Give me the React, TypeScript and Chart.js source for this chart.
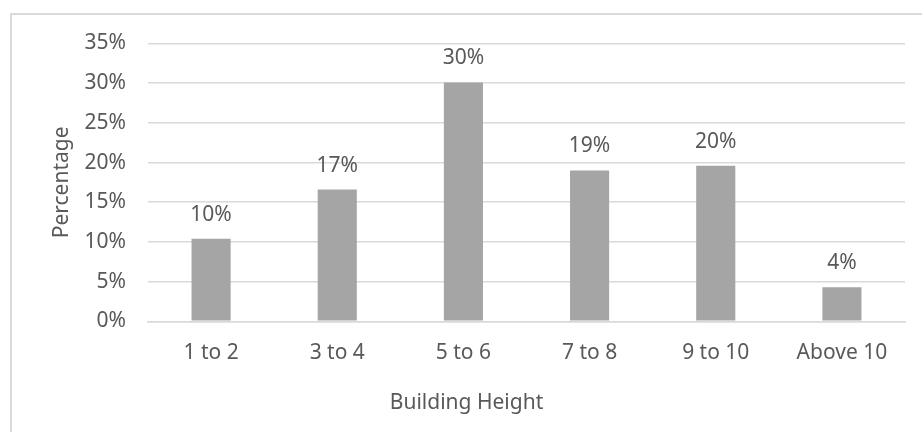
import React, { useEffect, useRef } from "react";
import { Chart, registerables } from "chart.js";

Chart.register(...registerables);

const categories = ["1 to 2", "3 to 4", "5 to 6", "7 to 8", "9 to 10", "Above 10"];
const percentages = [0.104, 0.166, 0.301, 0.19, 0.196, 0.043];
const yTickValues = [0, 0.05, 0.1, 0.15, 0.2, 0.25, 0.3, 0.35];
const xAxisTitle = "Building Height";
const yAxisTitle = "Percentage";

const TEXT = "#595959";
const GRID = "#D9D9D9";
const BAR = "#A5A5A5";
const FONT = "'Noto Sans', 'Open Sans', sans-serif";
const FS = 21;

const pct = (v: number) => `${Math.round(v * 100)}%`;

const labelPlugin = {
  id: "barLabels",
  afterDatasetsDraw(chart: any) {
    const ctx = chart.ctx;
    const meta = chart.getDatasetMeta(0);
    ctx.save();
    ctx.fillStyle = TEXT;
    ctx.font = `${FS}px ${FONT}`;
    ctx.textAlign = "center";
    ctx.textBaseline = "middle";
    meta.data.forEach((el: any, i: number) => {
      ctx.fillText(pct(percentages[i]), el.x, el.y - 24);
    });
    // x-axis title centred on the whole chart box (Excel style)
    ctx.fillText(xAxisTitle, (11 + chart.width) / 2, 402.7);
    ctx.restore();
  },
};

export default function App() {
  const ref = useRef<HTMLCanvasElement>(null);
  useEffect(() => {
    if (!ref.current) return;
    const chart = new Chart(ref.current, {
      type: "bar",
      data: {
        labels: categories,
        datasets: [
          {
            data: percentages,
            backgroundColor: BAR,
            borderWidth: 0,
            categoryPercentage: 1,
            barPercentage: 0.31,
          },
        ],
      },
      options: {
        animation: false,
        responsive: true,
        maintainAspectRatio: false,
        layout: { padding: { top: 43.5, right: 17, bottom: 0, left: 0 } },
        plugins: { legend: { display: false }, tooltip: { enabled: false } },
        scales: {
          x: {
            grid: { display: false, drawTicks: false },
            border: { display: true, color: GRID, width: 1.5 },
            ticks: { color: TEXT, font: { family: FONT, size: FS }, padding: 19, maxRotation: 0 },
            title: { display: false, text: xAxisTitle },
            afterFit(scale: any) {
              scale.height = 110.7;
            },
          },
          y: {
            min: 0,
            max: 0.35,
            afterBuildTicks(scale: any) {
              scale.ticks = yTickValues.map((v) => ({ value: v }));
            },
            grid: { color: GRID, lineWidth: 1.5, drawTicks: false },
            border: { display: false },
            ticks: {
              color: TEXT,
              font: { family: FONT, size: FS },
              padding: 22,
              callback: (v: any) => pct(Number(v)),
            },
            title: {
              display: true,
              text: yAxisTitle,
              color: TEXT,
              font: { family: FONT, size: FS },
              padding: { top: 49.4, bottom: 0 },
            },
            afterFit(scale: any) {
              scale.width = 148;
            },
          },
        },
      },
      plugins: [labelPlugin],
    });
    return () => chart.destroy();
  }, []);

  return (
    <div style={{ position: "fixed", left: 0, top: 0, width: 922, height: 432, background: "#fff" }}>
      <div
        style={{
          position: "absolute",
          left: 10,
          top: 13,
          right: 0,
          bottom: 0,
          borderTop: `2px solid ${GRID}`,
          borderLeft: `2px solid ${GRID}`,
        }}
      />
      <div style={{ position: "absolute", left: 0, top: 0, width: 922, height: 432 }}>
        <canvas ref={ref} />
      </div>
    </div>
  );
}
